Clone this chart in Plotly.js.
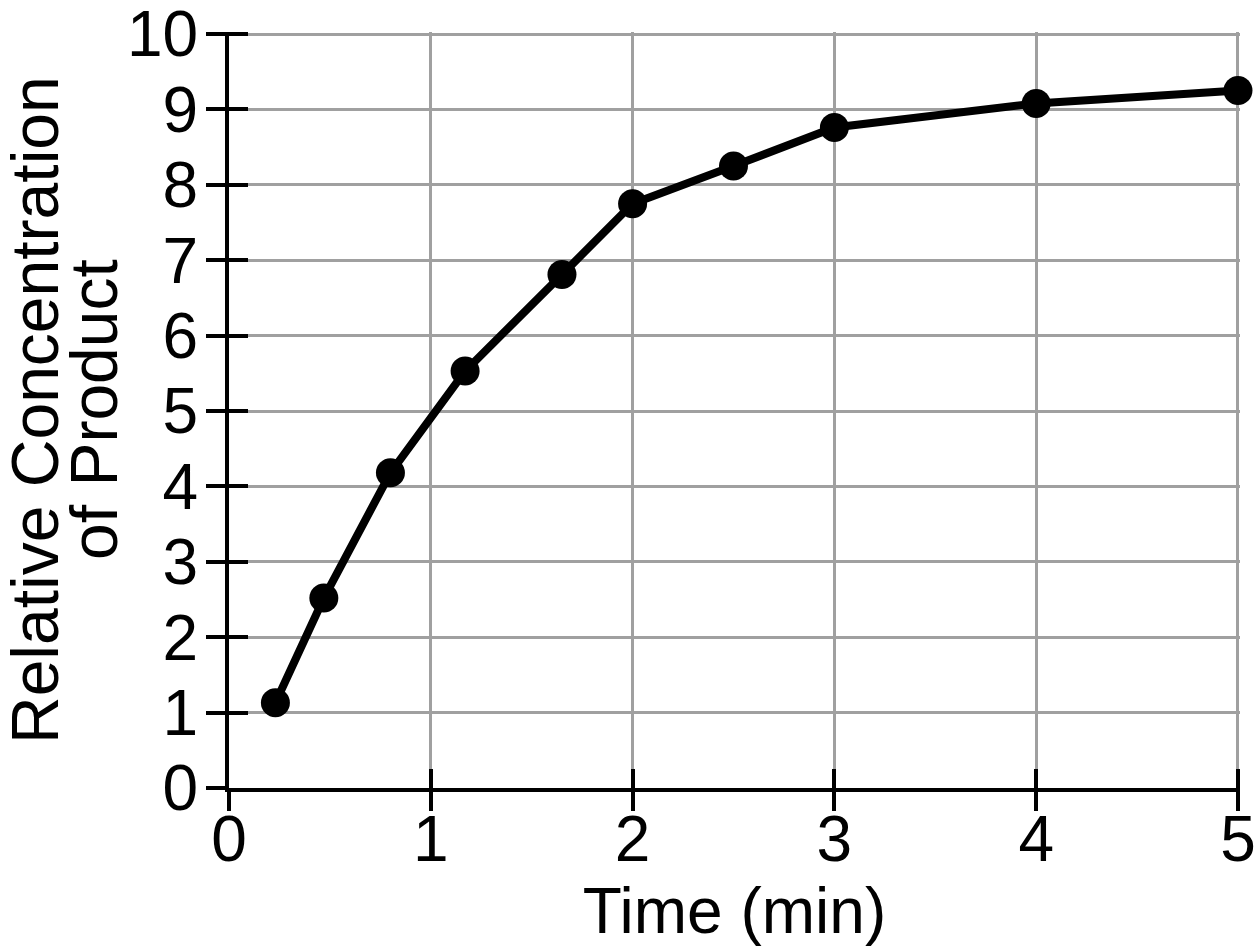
<!DOCTYPE html>
<html>
<head>
<meta charset="utf-8">
<script src="https://cdn.plot.ly/plotly-3.0.1.min.js"></script>
<style>
  html, body { margin: 0; padding: 0; background: #fff; }
  #chart { width: 1258px; height: 951px; }
</style>
</head>
<body>
<div id="chart"></div>
<script>
// Time (min) vs relative concentration of product
const timeMin = [0.23, 0.47, 0.8, 1.17, 1.65, 2.0, 2.5, 3.0, 4.0, 5.0];
const concentration = [1.13, 2.52, 4.18, 5.53, 6.81, 7.75, 8.25, 8.76, 9.08, 9.25];

const xTicks = [0, 1, 2, 3, 4, 5];
const yTicks = [0, 1, 2, 3, 4, 5, 6, 7, 8, 9, 10];

const FONT = 'Liberation Sans, Arial, Helvetica, sans-serif';
const GRID = '#a0a0a0';

// top ends padded by ~2px so plotly keeps the grid lines / inner ticks at 5 and 10
const X_RANGE = [0, 5.01];
const Y_RANGE = [0, 10.027];

const baseAxis = {
  showline: true, linecolor: '#000', linewidth: 4,
  ticks: 'outside', ticklen: 19, tickwidth: 4, tickcolor: '#000',
  showgrid: true, gridcolor: GRID, gridwidth: 3,
  zeroline: false, fixedrange: true,
  ticklabeloverflow: 'allow',
  tickfont: { family: FONT, size: 64, color: '#000' },
};

// second pair of axes only carries the inner half of the crossing ticks
const innerAxis = {
  showline: false, showgrid: false, zeroline: false, showticklabels: false,
  ticks: 'inside', ticklen: 19, tickwidth: 4, tickcolor: '#000',
  fixedrange: true,
};

const traces = [{
  x: timeMin, y: concentration,
  type: 'scatter', mode: 'lines+markers',
  line:   { color: '#000', width: 8 },
  marker: { color: '#000', size: 29 },
  cliponaxis: false,
  hoverinfo: 'skip', showlegend: false,
}, {
  x: [], y: [], xaxis: 'x2', yaxis: 'y2',
  type: 'scatter', mode: 'markers', hoverinfo: 'skip', showlegend: false,
}];

const layout = {
  width: 1258, height: 951,
  paper_bgcolor: '#fff', plot_bgcolor: '#fff',
  margin: { t: 32, b: 163, l: 229, r: 18 },
  font: { family: FONT, color: '#000' },
  xaxis: {
    ...baseAxis,
    range: X_RANGE, tickvals: xTicks, ticktext: xTicks.map(String),
    ticklabelstandoff: -27,
    title: { text: 'Time (min)', font: { family: FONT, size: 64, color: '#000' }, standoff: 0 },
  },
  yaxis: {
    ...baseAxis,
    range: Y_RANGE, tickvals: yTicks, ticktext: yTicks.map(String),
    ticklabelstandoff: -5,
  },
  xaxis2: { ...innerAxis, overlaying: 'x', anchor: 'y2', range: X_RANGE, tickvals: xTicks },
  yaxis2: { ...innerAxis, overlaying: 'y', anchor: 'x2', range: Y_RANGE, tickvals: yTicks },
  annotations: [
    { text: 'Relative Concentration', textangle: -90, xref: 'paper', yref: 'paper',
      x: 0, y: 0.5, xshift: -233, showarrow: false,
      font: { family: FONT, size: 66, color: '#000' } },
    { text: 'of Product', textangle: -90, xref: 'paper', yref: 'paper',
      x: 0, y: 0.5, xshift: -174, showarrow: false,
      font: { family: FONT, size: 66, color: '#000' } },
  ],
};

Plotly.newPlot('chart', traces, layout, { displayModeBar: false, staticPlot: true });
</script>
</body>
</html>
